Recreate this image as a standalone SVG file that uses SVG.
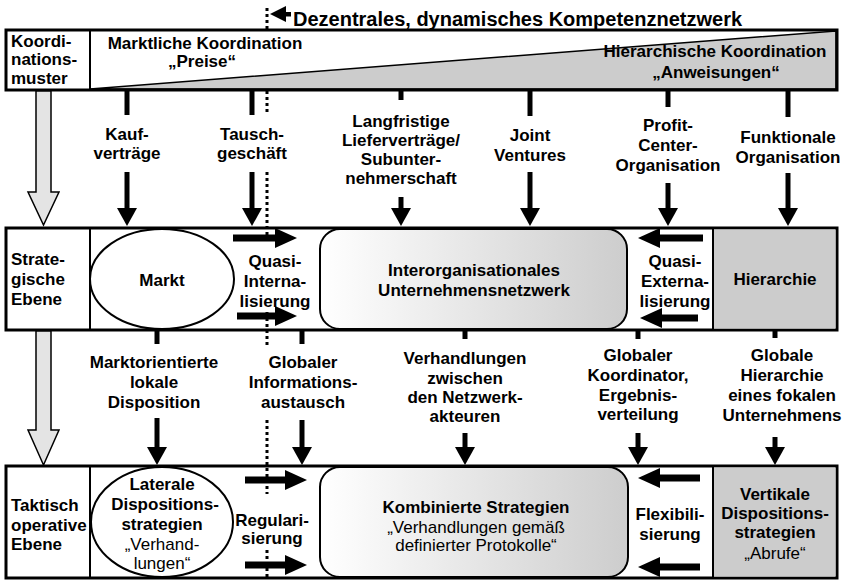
<svg xmlns="http://www.w3.org/2000/svg" width="846" height="581" viewBox="0 0 846 581">
<style>
text{font-family:"Liberation Sans",Arial,Helvetica,sans-serif;font-size:17px;font-weight:bold;fill:#000}
.c{text-anchor:middle}
.n{font-weight:normal}
.box{fill:#fff;stroke:#000;stroke-width:3}
.div{stroke:#000;stroke-width:2}
.shape{stroke:#000;stroke-width:2}
.v{stroke:#000;stroke-width:5;fill:none}
.h{stroke:#000;stroke-width:7;fill:none}
.dot{stroke:#000;stroke-width:3;stroke-dasharray:3 3;fill:none}
.big{fill:#e4e4e4;stroke:#000;stroke-width:1.5}
</style>
<defs>
<marker id="av" markerUnits="userSpaceOnUse" markerWidth="20" markerHeight="20" refX="0" refY="10" orient="auto" viewBox="0 0 18 20">
<path d="M0,0 L18,10 L0,20 Z" fill="#000"/>
</marker>
<marker id="ah" markerUnits="userSpaceOnUse" markerWidth="22" markerHeight="20" refX="0" refY="10" orient="auto" viewBox="0 0 22 20">
<path d="M0,0 L22,10 L0,20 Z" fill="#000"/>
</marker>
<linearGradient id="grad" x1="0" y1="0" x2="1" y2="0">
<stop offset="0" stop-color="#ffffff"/>
<stop offset="1" stop-color="#cdcdcd"/>
</linearGradient>
</defs>

<g id="kompetenznetzwerk">
<polygon points="270,14 286,6 286,22" fill="#000"/>
<rect x="284" y="12" width="7" height="4.5" fill="#000"/>
<text x="293" y="26" style="font-size:20px">Dezentrales, dynamisches Kompetenznetzwerk</text>
</g>

<g id="koordinationsmuster">
<rect x="6" y="30" width="831" height="60" fill="#fff"/>
<polygon points="90,89 836,31 836,89" fill="#cccccc" stroke="#000" stroke-width="1.5"/>
<rect x="6" y="30" width="831" height="60" fill="none" stroke="#000" stroke-width="3"/>
<line class="div" x1="90" y1="30" x2="90" y2="90"/>
<text x="11" y="47">Koordi-</text>
<text x="11" y="65">nations-</text>
<text x="11" y="84">muster</text>
<text class="c" x="205" y="49">Marktliche Koordination</text>
<text class="c" x="202" y="67">„Preise“</text>
<text class="c" x="715" y="57">Hierarchische Koordination</text>
<text class="c" x="716" y="78">„Anweisungen“</text>
</g>

<g id="strategische-ebene">
<rect class="box" x="6" y="228" width="831" height="102"/>
<rect x="713" y="229.5" width="122.5" height="99" fill="#cccccc"/>
<line class="div" x1="90" y1="228" x2="90" y2="330"/>
<line class="div" x1="713" y1="228" x2="713" y2="330"/>
<text x="11" y="265">Strate-</text>
<text x="11" y="285">gische</text>
<text x="11" y="305">Ebene</text>
</g>
<g id="markt">
<ellipse class="shape" cx="162" cy="279" rx="72" ry="50" fill="#fff"/>
<text class="c" x="162" y="286">Markt</text>
</g>
<g id="netzwerk">
<rect class="shape" x="320" y="229" width="307" height="100" rx="20" fill="url(#grad)"/>
<text class="c" x="474" y="276">Interorganisationales</text>
<text class="c" x="474" y="296">Unternehmensnetzwerk</text>
</g>
<g id="hierarchie">
<text class="c" x="775" y="285">Hierarchie</text>
</g>
<g id="quasi-internalisierung">
<text class="c" x="275" y="267">Quasi-</text>
<text class="c" x="275" y="287">Interna-</text>
<text class="c" x="275" y="307">lisierung</text>
</g>
<g id="quasi-externalisierung">
<text class="c" x="675" y="267">Quasi-</text>
<text class="c" x="675" y="287">Externa-</text>
<text class="c" x="675" y="307">lisierung</text>
</g>

<g id="taktisch-operative-ebene">
<rect class="box" x="6" y="466" width="831" height="112"/>
<rect x="713" y="467.5" width="122.5" height="109" fill="#cccccc"/>
<line class="div" x1="90" y1="466" x2="90" y2="578"/>
<line class="div" x1="713" y1="466" x2="713" y2="578"/>
<text x="11" y="511">Taktisch</text>
<text x="11" y="531">operative</text>
<text x="11" y="550">Ebene</text>
</g>
<g id="laterale">
<ellipse class="shape" cx="162" cy="522" rx="71" ry="55" fill="#fff"/>
<text class="c" x="162" y="490">Laterale</text>
<text class="c" x="165" y="510">Dispositions-</text>
<text class="c" x="162" y="530">strategien</text>
<text class="c n" x="162" y="550">„Verhand-</text>
<text class="c n" x="162" y="569">lungen“</text>
</g>
<g id="kombinierte">
<rect class="shape" x="320" y="467" width="308" height="110" rx="20" fill="url(#grad)"/>
<text class="c" x="476" y="513">Kombinierte Strategien</text>
<text class="c n" x="476" y="533">„Verhandlungen gemäß</text>
<text class="c n" x="476" y="551">definierter Protokolle“</text>
</g>
<g id="vertikale">
<text class="c" x="775" y="500">Vertikale</text>
<text class="c" x="775" y="519">Dispositions-</text>
<text class="c" x="775" y="538">strategien</text>
<text class="c n" x="775" y="559">„Abrufe“</text>
</g>
<g id="regularisierung">
<text class="c" x="272" y="526">Regulari-</text>
<text class="c" x="272" y="544">sierung</text>
</g>
<g id="flexibilisierung">
<text class="c" x="670" y="520">Flexibili-</text>
<text class="c" x="670" y="540">sierung</text>
</g>

<g id="connectors">
<path class="big" d="M36,91 L51,91 L51,192 L59,192 L43.5,225 L28,192 L36,192 Z"/>
<path class="big" d="M36,331 L51,331 L51,430 L59,430 L43.5,465 L28,430 L36,430 Z"/>

<line class="dot" x1="267" y1="8" x2="267" y2="29"/>
<line class="dot" x1="267" y1="91" x2="267" y2="115"/>
<line class="dot" x1="267" y1="172" x2="267" y2="244"/>
<line class="dot" x1="267" y1="312" x2="267" y2="346"/>
<line class="dot" x1="267" y1="420" x2="267" y2="494"/>
<line class="dot" x1="267" y1="550" x2="267" y2="578"/>

<line class="v" x1="127" y1="90" x2="127" y2="115"/>
<line class="v" x1="127" y1="172" x2="127" y2="208" marker-end="url(#av)"/>
<line class="v" x1="252" y1="90" x2="252" y2="115"/>
<line class="v" x1="252" y1="172" x2="252" y2="208" marker-end="url(#av)"/>
<line class="v" x1="401" y1="90" x2="401" y2="100"/>
<line class="v" x1="401" y1="197" x2="401" y2="208" marker-end="url(#av)"/>
<line class="v" x1="530" y1="90" x2="530" y2="116"/>
<line class="v" x1="530" y1="172" x2="530" y2="208" marker-end="url(#av)"/>
<line class="v" x1="668" y1="90" x2="668" y2="107"/>
<line class="v" x1="668" y1="183" x2="668" y2="208" marker-end="url(#av)"/>
<line class="v" x1="788" y1="90" x2="788" y2="117"/>
<line class="v" x1="788" y1="173" x2="788" y2="208" marker-end="url(#av)"/>

<text class="c" x="127" y="140">Kauf-</text>
<text class="c" x="127" y="159">verträge</text>
<text class="c" x="252" y="140">Tausch-</text>
<text class="c" x="252" y="159">geschäft</text>
<text class="c" x="401" y="127">Langfristige</text>
<text class="c" x="401" y="146">Lieferverträge/</text>
<text class="c" x="401" y="165">Subunter-</text>
<text class="c" x="401" y="184">nehmerschaft</text>
<text class="c" x="530" y="141">Joint</text>
<text class="c" x="530" y="161">Ventures</text>
<text class="c" x="668" y="131">Profit-</text>
<text class="c" x="668" y="151">Center-</text>
<text class="c" x="668" y="171">Organisation</text>
<text class="c" x="788" y="143">Funktionale</text>
<text class="c" x="788" y="163">Organisation</text>

<line class="h" x1="233" y1="238" x2="275" y2="238" marker-end="url(#ah)"/>
<line class="h" x1="237" y1="316" x2="275" y2="316" marker-end="url(#ah)"/>
<line class="h" x1="703" y1="238" x2="660" y2="238" marker-end="url(#ah)"/>
<line class="h" x1="698" y1="318" x2="662" y2="318" marker-end="url(#ah)"/>

<line class="v" x1="157" y1="330" x2="157" y2="344"/>
<line class="v" x1="157" y1="418" x2="157" y2="447" marker-end="url(#av)"/>
<line class="v" x1="302" y1="330" x2="302" y2="344"/>
<line class="v" x1="302" y1="420" x2="302" y2="447" marker-end="url(#av)"/>
<line class="v" x1="465" y1="330" x2="465" y2="339"/>
<line class="v" x1="465" y1="433" x2="465" y2="447" marker-end="url(#av)"/>
<line class="v" x1="638" y1="330" x2="638" y2="339"/>
<line class="v" x1="638" y1="433" x2="638" y2="447" marker-end="url(#av)"/>
<line class="v" x1="775" y1="330" x2="775" y2="338"/>
<line class="v" x1="775" y1="437" x2="775" y2="447" marker-end="url(#av)"/>

<text class="c" x="154" y="368">Marktorientierte</text>
<text class="c" x="154" y="388">lokale</text>
<text class="c" x="154" y="408">Disposition</text>
<text class="c" x="303" y="368">Globaler</text>
<text class="c" x="303" y="388">Informations-</text>
<text class="c" x="303" y="408">austausch</text>
<text class="c" x="465" y="364">Verhandlungen</text>
<text class="c" x="465" y="384">zwischen</text>
<text class="c" x="465" y="403">den Netzwerk-</text>
<text class="c" x="465" y="422">akteuren</text>
<text class="c" x="638" y="361">Globaler</text>
<text class="c" x="638" y="381">Koordinator,</text>
<text class="c" x="638" y="401">Ergebnis-</text>
<text class="c" x="638" y="420">verteilung</text>
<text class="c" x="782" y="361">Globale</text>
<text class="c" x="782" y="381">Hierarchie</text>
<text class="c" x="782" y="401">eines fokalen</text>
<text class="c" x="782" y="421">Unternehmens</text>

<line class="h" x1="245" y1="480" x2="285" y2="480" marker-end="url(#ah)"/>
<line class="h" x1="245" y1="565" x2="285" y2="565" marker-end="url(#ah)"/>
<line class="h" x1="700" y1="478" x2="660" y2="478" marker-end="url(#ah)"/>
<line class="h" x1="700" y1="567" x2="660" y2="567" marker-end="url(#ah)"/>
</g>
</svg>
